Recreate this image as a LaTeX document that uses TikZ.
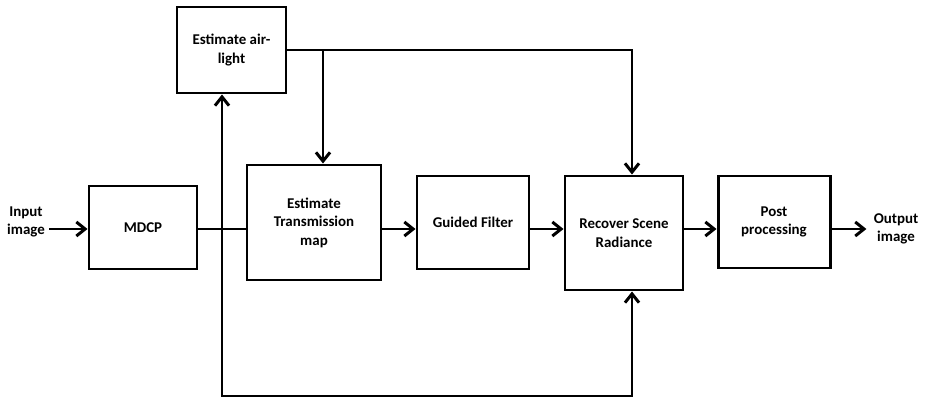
\documentclass[tikz,border=0pt]{standalone}
\usepackage{fontspec}
\setmainfont{Carlito}
\usetikzlibrary{arrows.meta,calc,positioning}

\begin{document}
\begin{tikzpicture}[x=0.02cm,y=-0.02cm,
        block/.style={rectangle, draw=black, line width=1.7pt, align=center, inner sep=0pt, font=\fontsize{8.5}{10.5}\selectfont\bfseries},
        label/.style={align=center, inner sep=0pt, font=\fontsize{8.5}{10.5}\selectfont\bfseries},
        arrow/.style={-{Straight Barb[length=5pt,width=8pt,line width=1.7pt]}, line width=1.7pt},
        line/.style={line width=1.7pt}
    ]
        \useasboundingbox (0,0) rectangle (937,399);

        % Blocks
        \node[block, minimum width=109*0.02cm, minimum height=86*0.02cm] (air) at (231.5,50) {Estimate air-\\light};
        \node[block, minimum width=108*0.02cm, minimum height=83*0.02cm] (mdcp) at (143,227.5) {MDCP};
        \node[block, minimum width=134*0.02cm, minimum height=115*0.02cm] (trans) at (314,222.5) {Estimate\\Transmission\\map};
        \node[block, minimum width=112*0.02cm, minimum height=93*0.02cm] (guided) at (473,222.5) {Guided Filter};
        \node[block, minimum width=118*0.02cm, minimum height=114*0.02cm] (recover) at (624,233) {Recover Scene\\Radiance};
        \node[block, minimum width=112*0.02cm, minimum height=92*0.02cm] (post) at (774,222) {Post\\processing};

        % Input / output labels
        \node[label] (input) at (26,222) {Input\\image};
        \node[label] (output) at (896,229) {Output\\image};

        % Helper coordinates
        \coordinate (ml) at (0,229);
        \coordinate (split) at (222,229);
        \coordinate (low) at (222,396);
        \coordinate (top) at (632,50);
        \coordinate (tap) at (323,50);

        % Main path
        \draw[arrow] (input.east |- ml) ++(4,0) -- (mdcp.west |- ml);
        \draw[line] (mdcp.east |- ml) -- (trans.west |- ml);
        \draw[arrow] (trans.east |- ml) -- (guided.west |- ml);
        \draw[arrow] (guided.east |- ml) -- (recover.west |- ml);
        \draw[arrow] (recover.east |- ml) -- (post.west |- ml);
        \draw[arrow] (post.east |- ml) -- ($(output.west |- ml)+(-7,0)$);

        % Feedback and feed-forward lines
        \draw[arrow] (split) -- (split |- air.south);
        \draw[arrow] (split) -- (low) -- (low -| top) -- (top |- recover.south);
        \draw[arrow] (air.east |- top) -- (top) -- (top |- recover.north);
        \draw[arrow] (tap) -- (tap |- trans.north);

    \end{tikzpicture}
\end{document}
